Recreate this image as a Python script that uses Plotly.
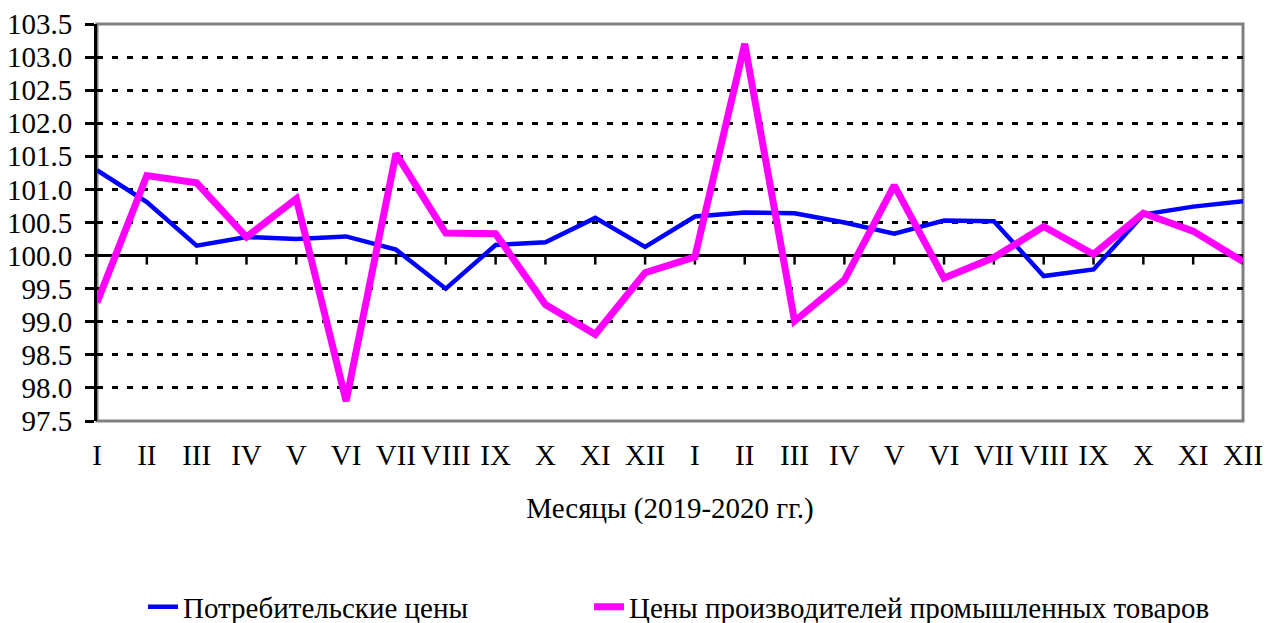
import plotly.graph_objects as go

months = ["I", "II", "III", "IV", "V", "VI", "VII", "VIII", "IX", "X", "XI", "XII",
          "I", "II", "III", "IV", "V", "VI", "VII", "VIII", "IX", "X", "XI", "XII"]
consumer = [101.29, 100.81, 100.15, 100.28, 100.25, 100.29, 100.09, 99.50, 100.16, 100.20, 100.57, 100.13,
            100.59, 100.65, 100.64, 100.50, 100.33, 100.53, 100.52, 99.69, 99.79, 100.62, 100.74, 100.82]
producer = [99.29, 101.21, 101.10, 100.28, 100.86, 97.80, 101.54, 100.34, 100.33, 99.26, 98.81, 99.74,
            99.98, 103.20, 99.01, 99.63, 101.06, 99.66, 99.97, 100.44, 100.02, 100.64, 100.37, 99.91]
y_ticks = [97.5 + 0.5 * k for k in range(13)]
x_idx = list(range(len(months)))

FONT = "Liberation Serif"
SIZE = 29

fig = go.Figure()
fig.add_trace(go.Scatter(x=x_idx, y=consumer, mode="lines", name="Потребительские цены",
                         line=dict(color="#0000FF", width=4.5), legend="legend"))
fig.add_trace(go.Scatter(x=x_idx, y=producer, mode="lines", name="Цены производителей промышленных товаров",
                         line=dict(color="#FF00FF", width=7), legend="legend2"))

shapes = [
    dict(type="rect", xref="paper", yref="paper", x0=0, x1=1, y0=0, y1=1,
         line=dict(color="#808080", width=3), layer="below"),
    dict(type="line", xref="paper", yref="y", x0=0, x1=1, y0=100, y1=100,
         line=dict(color="black", width=3), layer="below"),
]
for i in x_idx[1:]:
    shapes.append(dict(type="line", xref="x", yref="y", x0=i, x1=i, ysizemode="pixel",
                       yanchor=100, y0=0, y1=-9, line=dict(color="black", width=2.5), layer="below"))

PLOT_L, PLOT_R, PLOT_T, PLOT_B = 97, 1243, 24, 421
plot_w = PLOT_R - PLOT_L
plot_h = PLOT_B - PLOT_T

legend_common = dict(orientation="h", xanchor="left", y=(PLOT_B - 607) / plot_h, yanchor="middle",
                     font=dict(family=FONT, size=SIZE, color="black"), bgcolor="rgba(0,0,0,0)")

fig.update_layout(
    width=1266, height=623,
    margin=dict(l=PLOT_L, r=1266 - PLOT_R, t=PLOT_T, b=623 - PLOT_B, autoexpand=False),
    paper_bgcolor="white", plot_bgcolor="white",
    font=dict(family=FONT, size=SIZE, color="black"),
    showlegend=True,
    legend=dict(x=(143 - PLOT_L) / plot_w, **legend_common),
    legend2=dict(x=(589 - PLOT_L) / plot_w, **legend_common),
    shapes=shapes,
)
fig.update_xaxes(
    range=[0, len(months) - 1], tickmode="array", tickvals=x_idx, ticktext=months,
    showgrid=False, zeroline=False, showline=False, automargin=False,
    ticks="outside", ticklen=8, tickcolor="rgba(0,0,0,0)",
    tickfont=dict(family=FONT, size=SIZE, color="black"),
    title=dict(text="Месяцы (2019-2020 гг.)", font=dict(family=FONT, size=SIZE, color="black"), standoff=27),
)
fig.update_yaxes(
    range=[97.5, 103.5], tickmode="array", tickvals=y_ticks, ticktext=[f"{v:.1f}" for v in y_ticks],
    showgrid=True, gridcolor="black", gridwidth=3, griddash="6px,9px",
    zeroline=False, showline=True, linecolor="black", linewidth=3, automargin=False,
    ticks="outside", ticklen=9, tickwidth=2.5, tickcolor="black",
    ticklabelstandoff=7, tickfont=dict(family=FONT, size=SIZE, color="black"),
)

fig.write_html("out.html", config={"displayModeBar": False},
               post_script="document.body.style.margin='0';")
